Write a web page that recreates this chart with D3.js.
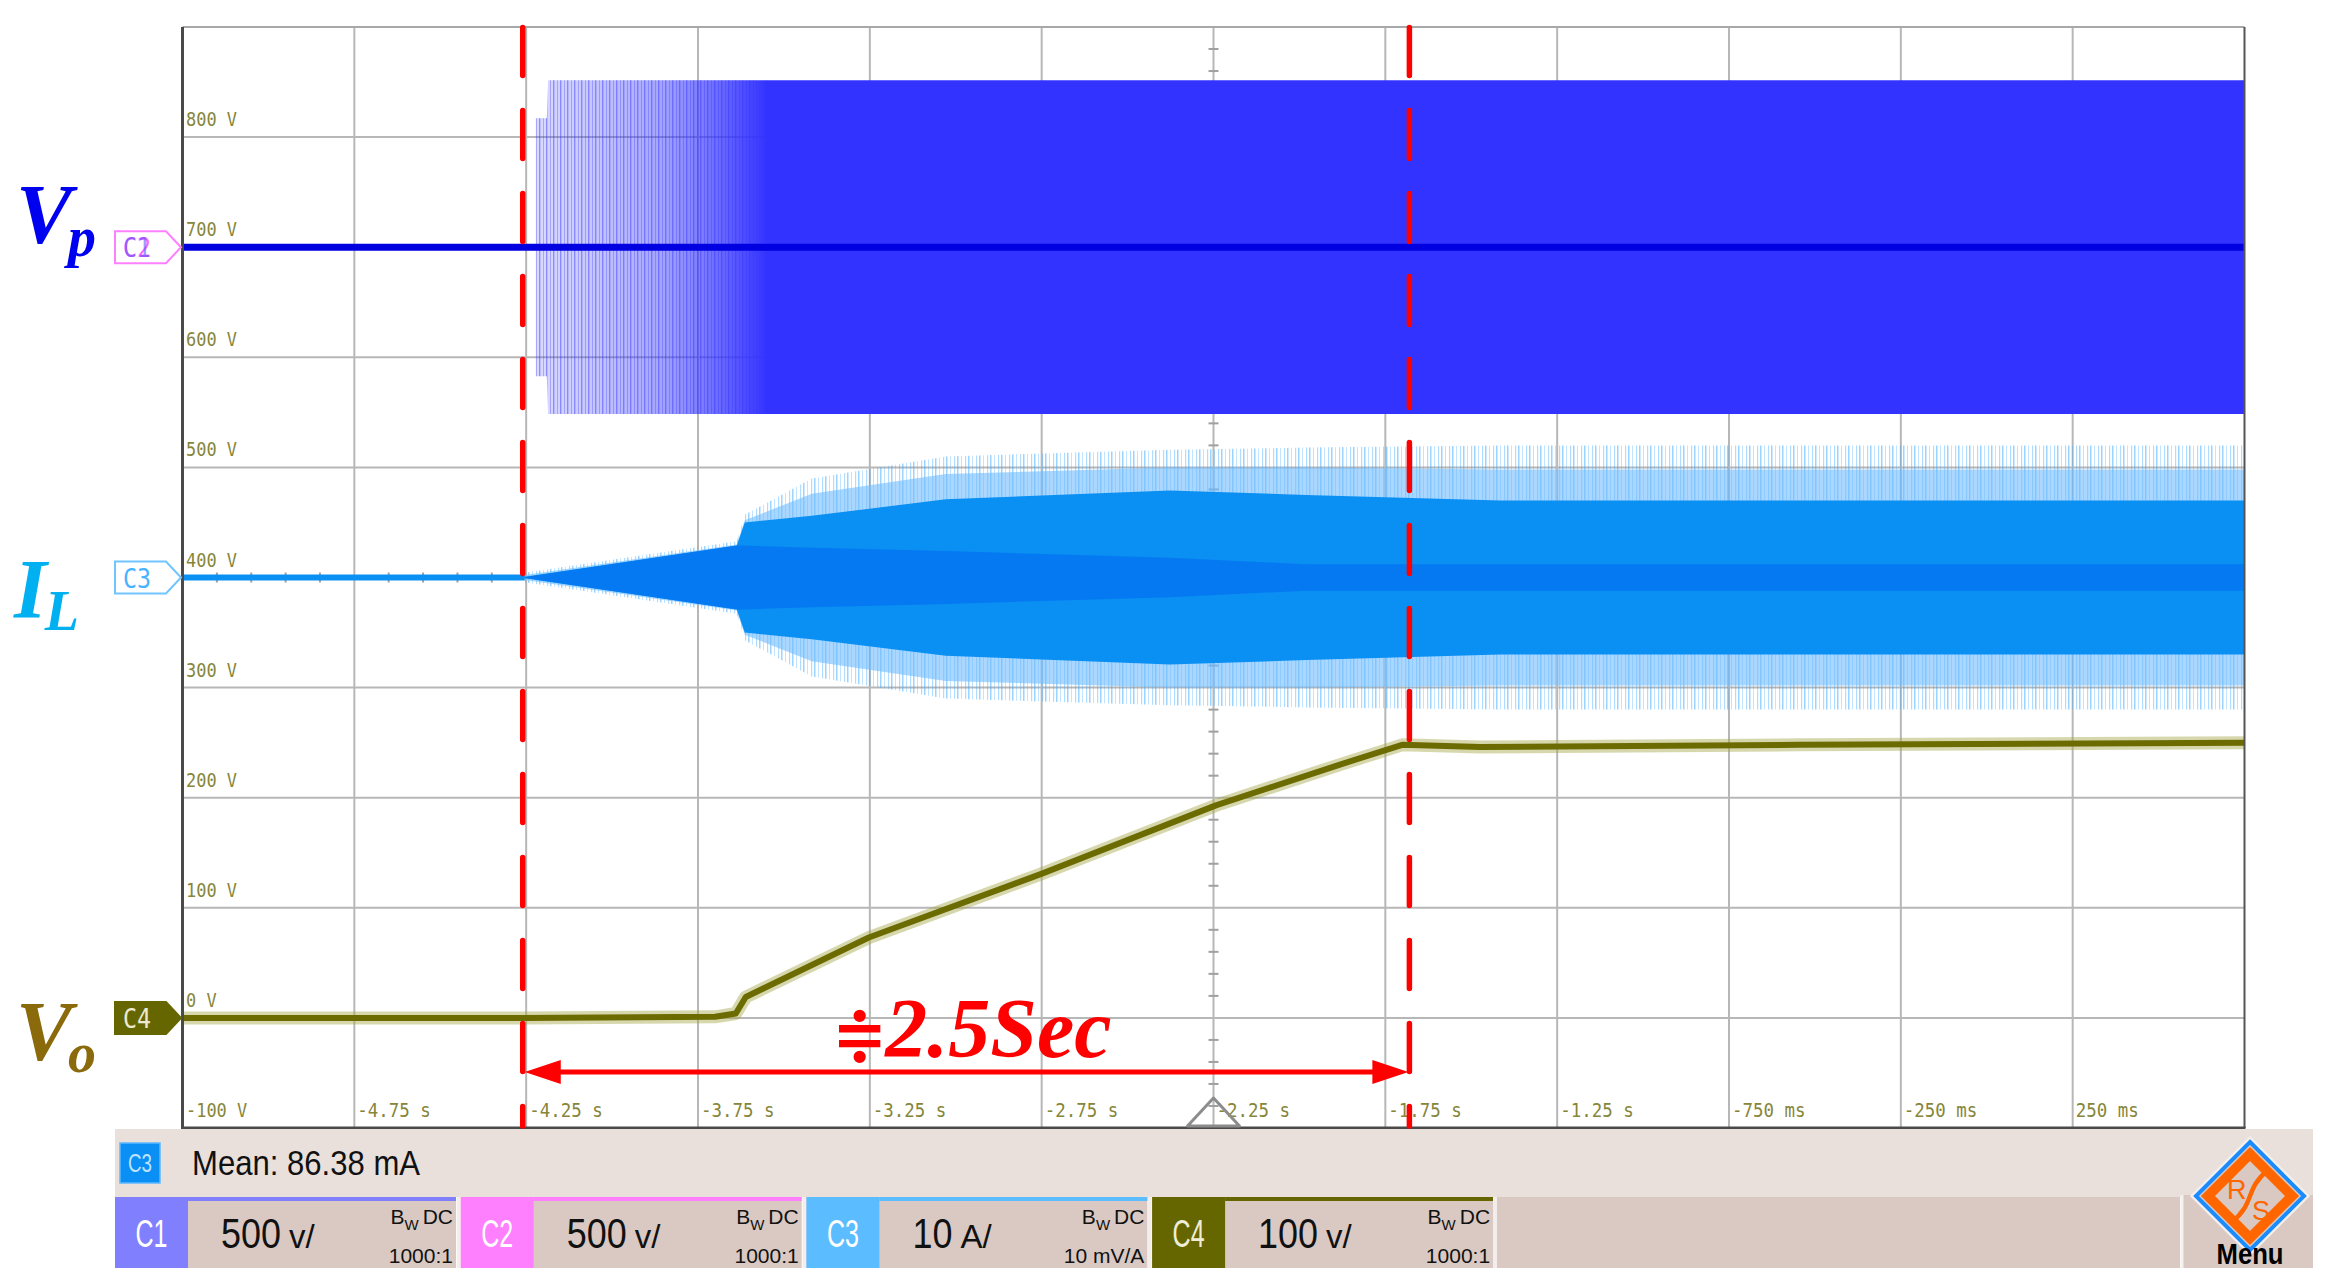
<!DOCTYPE html>
<html><head><meta charset="utf-8">
<script src="https://cdn.jsdelivr.net/npm/d3@7"></script>
<style>body{margin:0;background:#fff}svg{display:block}</style>
</head><body>
<svg id="c" width="2336" height="1288"></svg>
<script>
// ---------------- DATA ----------------
// horizontal axis (seconds)
const timeTicks  = [-4.75,-4.25,-3.75,-3.25,-2.75,-2.25,-1.75,-1.25,-0.75,-0.25,0.25];
const timeLabels = ["-4.75 s","-4.25 s","-3.75 s","-3.25 s","-2.75 s","-2.25 s","-1.75 s","-1.25 s","-750 ms","-250 ms","250 ms"];
// vertical grid levels (screen scale, C4 100 V/div)
const levelTicks  = [800,700,600,500,400,300,200,100,0,-100];
const levelLabels = ["800 V","700 V","600 V","500 V","400 V","300 V","200 V","100 V","0 V","-100 V"];

// Vp (C1, 500 V/div, offset at 700 grid): switching envelope amplitude in V
const vpTime = [-4.222,-4.190,-4.186,0.75];
const vpAmp  = [586,586,758,758];
// density of the switching burst (visual fill strength)
const vpDensTime = [-4.222,-4.05,-3.85,-3.66,-3.55];
const vpDensity  = [0.18,0.28,0.45,0.78,1.0];

// IL (C3, 10 A/div, offset at 400 grid): envelope half-widths in A
const ilTime  = [-4.26,-3.637,-3.614,-3.419,-3.029,-2.377,-1.981,-1.416,0.75];
const ilOuter = [0.4,3.3,5.7,9.0,11.0,11.6,11.8,12.0,12.0];
const ilMid   = [0.2,3.0,5.2,7.6,9.4,10.0,10.0,9.8,9.8];
const ilDense = [0.05,2.9,5.0,5.6,7.1,7.9,7.5,7.0,7.0];
const ilCore  = [0.0,2.9,2.9,2.7,2.4,1.8,1.2,1.2,1.2];

// Vo (C4, 100 V/div, offset at 0 grid) in V
const voTime  = [-5.25,-4.26,-3.70,-3.64,-3.611,-3.253,-2.749,-2.243,-1.873,-1.701,-1.474,-0.543,0.75];
const voValue = [0,0,1,4,19,73,131,193,231,248,246,248,250];

// annotation markers (s)
const markerTimes = [-4.26,-1.68];
const spanSymbol = "≑";
const spanText = "2.5Sec";

// channel info bar
const chNames  = ["C1","C2","C3","C4"];
const chScaleN = ["500","500","10","100"];
const chScaleU = ["v/","v/","A/","v/"];
const chProbe  = ["1000:1","1000:1","10 mV/A","1000:1"];
const chColors = ["#8080ff","#ff80ff","#5bbcff","#666600"];
const measText = "Mean: 86.38 mA";

// ---------------- DRAW ----------------
const svg = d3.select("#c");
const defs = svg.append("defs");
const x = d3.scaleLinear().domain([-5.25,0.75]).range([182.5,2244.5]);
const y = d3.scaleLinear().domain([900,-100]).range([27,1128]);

// grid
const gx = d3.range(13).map(i=>-5.25+0.5*i);
const gy = d3.range(11).map(i=>900-100*i);
const grid = svg.append("g");
grid.selectAll(".vg").data(gx.slice(1,-1)).join("line")
  .attr("x1",d=>x(d)).attr("x2",d=>x(d)).attr("y1",y(900)).attr("y2",y(-100))
  .attr("stroke","#b7b7b7").attr("stroke-width",2);
grid.selectAll(".hg").data(gy.slice(1,-1)).join("line")
  .attr("x1",x(-5.25)).attr("x2",x(0.75)).attr("y1",d=>y(d)).attr("y2",d=>y(d))
  .attr("stroke","#b7b7b7").attr("stroke-width",2);
// minor ticks on centre lines
const vMinor = d3.range(1,50).map(i=>900-20*i).filter(v=>v%100!==0);
grid.selectAll(".mt1").data(vMinor).join("line")
  .attr("x1",x(-2.25)-5).attr("x2",x(-2.25)+5).attr("y1",d=>y(d)).attr("y2",d=>y(d))
  .attr("stroke","#a0a0a0").attr("stroke-width",2);
const hMinor = d3.range(1,60).map(i=>-5.25+0.1*i).filter((v,i)=>(i+1)%5!==0);
grid.selectAll(".mt2").data(hMinor).join("line")
  .attr("y1",y(400)-5).attr("y2",y(400)+5).attr("x1",d=>x(d)).attr("x2",d=>x(d))
  .attr("stroke","#a0a0a0").attr("stroke-width",2);

// level labels / time labels
const mono = "'DejaVu Sans Mono', 'Liberation Mono', monospace";
svg.append("g").selectAll("text").data(levelTicks).join("text")
  .attr("x",186).attr("y",d=>y(d)-11)
  .attr("font-family",mono).attr("font-size",19).attr("fill","#86863a")
  .attr("textLength",(d,i)=>levelLabels[i].length*10.2).attr("lengthAdjust","spacingAndGlyphs")
  .text((d,i)=>levelLabels[i]);
svg.append("g").selectAll("text").data(timeTicks).join("text")
  .attr("x",d=>x(d)+3).attr("y",1117)
  .attr("font-family",mono).attr("font-size",19).attr("fill","#86863a")
  .attr("textLength",(d,i)=>timeLabels[i].length*10.5).attr("lengthAdjust","spacingAndGlyphs")
  .text((d,i)=>timeLabels[i]);

// ---- Vp trace
const vpY = v => y(700 + v/5);
const vpData = vpTime.map((t,i)=>({t,a:vpAmp[i]}));
const gxa = x(vpDensTime[0]), gxb = x(vpDensTime[vpDensTime.length-1]);
const vg = defs.append("linearGradient").attr("id","vpGrad").attr("gradientUnits","userSpaceOnUse")
  .attr("x1",gxa).attr("x2",gxb).attr("y1",0).attr("y2",0);
vg.selectAll("stop").data(vpDensTime).join("stop")
  .attr("offset",d=>(x(d)-gxa)/(gxb-gxa)).attr("stop-color","#3333ff")
  .attr("stop-opacity",(d,i)=>vpDensity[i]);
const vpHair = defs.append("pattern").attr("id","vpHair").attr("patternUnits","userSpaceOnUse")
  .attr("width",7).attr("height",10);
vpHair.append("rect").attr("x",0).attr("width",1.4).attr("height",10).attr("fill","#3333ff").attr("opacity",0.45);
vpHair.append("rect").attr("x",4).attr("width",1).attr("height",10).attr("fill","#3333ff").attr("opacity",0.3);
const vpArea = d3.area().x(d=>x(d.t)).y0(d=>vpY(-d.a)).y1(d=>vpY(d.a));
svg.append("path").datum(vpData).attr("d",vpArea).attr("fill","url(#vpGrad)");
defs.append("clipPath").attr("id","vpClip").append("rect")
  .attr("x",x(-4.222)).attr("width",x(-3.58)-x(-4.222)).attr("y",0).attr("height",1288);
svg.append("path").datum(vpData).attr("d",vpArea).attr("fill","url(#vpHair)").attr("clip-path","url(#vpClip)");
svg.append("line").attr("x1",x(-5.25)).attr("x2",x(0.75)).attr("y1",vpY(0)).attr("y2",vpY(0))
  .attr("stroke","#0000e0").attr("stroke-width",7);

// ---- IL trace
const ilY = a => y(400 + a*10);
const ilData = ilTime.map((t,i)=>({t,o:ilOuter[i],m:ilMid[i],d:ilDense[i],c:ilCore[i]}));
const ilHair = defs.append("pattern").attr("id","ilHair").attr("patternUnits","userSpaceOnUse")
  .attr("width",11).attr("height",10);
ilHair.append("rect").attr("x",0).attr("width",1.5).attr("height",10).attr("fill","#3aa8ff").attr("opacity",0.5);
ilHair.append("rect").attr("x",4).attr("width",1).attr("height",10).attr("fill","#3aa8ff").attr("opacity",0.3);
ilHair.append("rect").attr("x",8).attr("width",1.2).attr("height",10).attr("fill","#3aa8ff").attr("opacity",0.4);
const ilArea = k => d3.area().x(d=>x(d.t)).y0(d=>ilY(-d[k])).y1(d=>ilY(d[k]));
svg.append("path").datum(ilData).attr("d",ilArea("o")).attr("fill","url(#ilHair)");
svg.append("path").datum(ilData).attr("d",ilArea("m")).attr("fill","#6fbcff").attr("opacity",0.6);
svg.append("path").datum(ilData).attr("d",ilArea("d")).attr("fill","#0a8ff2");
svg.append("path").datum(ilData).attr("d",ilArea("c")).attr("fill","#0579f2");
svg.append("line").attr("x1",x(-5.25)).attr("x2",x(ilTime[0])+2).attr("y1",ilY(0)).attr("y2",ilY(0))
  .attr("stroke","#0a8ff2").attr("stroke-width",6);

// ---- Vo trace
const voData = voTime.map((t,i)=>({t,v:voValue[i]}));
const voLine = d3.line().x(d=>x(d.t)).y(d=>y(d.v));
svg.append("path").datum(voData).attr("d",voLine).attr("fill","none")
  .attr("stroke","#a6a64a").attr("stroke-width",13).attr("opacity",0.45).attr("stroke-linejoin","round");
svg.append("path").datum(voData).attr("d",voLine).attr("fill","none")
  .attr("stroke","#6b6b00").attr("stroke-width",6).attr("stroke-linejoin","round");

// frame
const fr = svg.append("g");
fr.append("line").attr("x1",x(-5.25)).attr("x2",x(0.75)).attr("y1",y(900)).attr("y2",y(900)).attr("stroke","#a8a8a8").attr("stroke-width",2);
fr.append("line").attr("x1",x(0.75)).attr("x2",x(0.75)).attr("y1",y(900)).attr("y2",y(-100)).attr("stroke","#555").attr("stroke-width",2);
fr.append("line").attr("x1",x(-5.25)).attr("x2",x(-5.25)).attr("y1",y(900)).attr("y2",y(-100)+1).attr("stroke","#4a4a4a").attr("stroke-width",3);
fr.append("line").attr("x1",x(-5.25)).attr("x2",x(0.75)+1).attr("y1",y(-100)).attr("y2",y(-100)).attr("stroke","#4a4a4a").attr("stroke-width",3);

// trigger marker
const tx = x(-2.25);
svg.append("path").attr("d",`M${tx-26},${1126}L${tx+26},${1126}L${tx},${1098}Z`)
  .attr("fill","none").attr("stroke","#8c8c8c").attr("stroke-width",3).attr("stroke-linejoin","round");

// channel markers on the left
function marker(yc, stroke, fill){
  const g = svg.append("g");
  g.append("path").attr("d",`M115,${yc-16}L166,${yc-16}L181,${yc}L166,${yc+16}L115,${yc+16}Z`)
    .attr("fill",fill).attr("stroke",stroke).attr("stroke-width",2);
  return g;
}
let m1 = marker(vpY(0),"#ff80ff","#ffffff");
m1.append("text").attr("x",123).attr("y",vpY(0)+10).attr("font-family",mono).attr("font-size",27)
  .attr("fill","#ff66ff").attr("textLength",28).attr("lengthAdjust","spacingAndGlyphs").text("C2");
m1.append("text").attr("x",123).attr("y",vpY(0)+10).attr("font-family",mono).attr("font-size",27)
  .attr("fill","#4d4dff").attr("opacity",0.55).attr("textLength",28).attr("lengthAdjust","spacingAndGlyphs").text("C1");
let m3 = marker(ilY(0),"#70c4ff","#ffffff");
m3.append("text").attr("x",123).attr("y",ilY(0)+10).attr("font-family",mono).attr("font-size",27)
  .attr("fill","#47b2ff").attr("textLength",28).attr("lengthAdjust","spacingAndGlyphs").text("C3");
let m4 = marker(y(0),"#666600","#666600");
m4.append("text").attr("x",123).attr("y",y(0)+10).attr("font-family",mono).attr("font-size",27)
  .attr("fill","#ecebd2").attr("textLength",28).attr("lengthAdjust","spacingAndGlyphs").text("C4");

// big left labels
const serif = "'Liberation Serif','Times New Roman',serif";
function bigLabel(xx, yy, main, sub, dx, dy, col){
  const t = svg.append("text").attr("x",xx).attr("y",yy).attr("font-family",serif)
    .attr("font-weight","bold").attr("font-style","italic").attr("fill",col);
  t.append("tspan").attr("font-size",84).text(main);
  t.append("tspan").attr("font-size",56).attr("dx",dx).attr("dy",dy).text(sub);
}
bigLabel(16,243,"V","p",-4,13,"#0000f0");
bigLabel(14,618,"I","L",-2,12,"#00b0f0");
bigLabel(16,1060,"V","o",-4,12,"#8a6a0a");

// ---------------- bottom info panel ----------------
const sans = "'Liberation Sans','Arial',sans-serif";
svg.append("rect").attr("x",115).attr("y",1129).attr("width",2313-115).attr("height",68).attr("fill","#e9e0dc");
svg.append("rect").attr("x",120).attr("y",1143).attr("width",40).attr("height",40).attr("fill","#0a8ff5").attr("stroke","#5db8ff").attr("stroke-width",1.5);
svg.append("text").attr("x",140).attr("y",1172).attr("text-anchor","middle").attr("font-family",sans)
  .attr("font-size",25).attr("fill","#bfe3ff").attr("textLength",24).attr("lengthAdjust","spacingAndGlyphs").text("C3");
svg.append("text").attr("x",192).attr("y",1175).attr("font-family",sans).attr("font-size",35)
  .attr("fill","#111").attr("textLength",228).attr("lengthAdjust","spacingAndGlyphs").text(measText);

// row 2 background
svg.append("rect").attr("x",1497).attr("y",1197).attr("width",2180-1497).attr("height",71).attr("fill","#d9c9c2");
chNames.forEach((nm,i)=>{
  const x0 = 115 + i*345.7, bw = 73, tw = 341;
  const g = svg.append("g");
  g.append("rect").attr("x",x0).attr("y",1197).attr("width",tw).attr("height",71).attr("fill","#d9c9c2");
  g.append("rect").attr("x",x0).attr("y",1197).attr("width",bw).attr("height",71).attr("fill",chColors[i]);
  g.append("rect").attr("x",x0+bw).attr("y",1197).attr("width",tw-bw).attr("height",4).attr("fill",chColors[i]);
  g.append("text").attr("x",x0+bw/2).attr("y",1247).attr("text-anchor","middle").attr("font-family",sans)
    .attr("font-size",38).attr("fill", i===3 ? "#eeeed8" : "#ffffff")
    .attr("textLength",32).attr("lengthAdjust","spacingAndGlyphs").text(nm);
  const nW = chScaleN[i].length*20;
  g.append("text").attr("x",x0+bw+33).attr("y",1248).attr("font-family",sans).attr("fill","#111")
    .attr("font-size",43).attr("textLength",nW).attr("lengthAdjust","spacingAndGlyphs").text(chScaleN[i]);
  g.append("text").attr("x",x0+bw+33+nW+8).attr("y",1248).attr("font-family",sans).attr("fill","#111")
    .attr("font-size",33).text(chScaleU[i]);
  const bwT = g.append("text").attr("x",x0+tw-3).attr("y",1224).attr("text-anchor","end")
    .attr("font-family",sans).attr("font-size",21).attr("fill","#111");
  bwT.append("tspan").text("B");
  bwT.append("tspan").attr("font-size",15).attr("dy",6).text("W");
  bwT.append("tspan").attr("dy",-6).attr("dx",4).text("DC");
  g.append("text").attr("x",x0+tw-3).attr("y",1263).attr("text-anchor","end")
    .attr("font-family",sans).attr("font-size",21).attr("fill","#111").text(chProbe[i]);
});
// separators (white gaps)
[1,2,3].forEach(i=>{
  svg.append("rect").attr("x",115+i*345.7-4).attr("y",1197).attr("width",3.5).attr("height",71).attr("fill","#f3eeec");
});
svg.append("rect").attr("x",1493).attr("y",1197).attr("width",4).attr("height",71).attr("fill","#f3eeec");

// Menu box + logo
svg.append("rect").attr("x",2183).attr("y",1195).attr("width",130).attr("height",73).attr("fill","#d9c9c2");
svg.append("line").attr("x1",2182).attr("x2",2182).attr("y1",1195).attr("y2",1268).attr("stroke","#f5f1ef").attr("stroke-width",3);
const cx=2250, cy=1196;
const dia = r => `M${cx},${cy-r}L${cx+r},${cy}L${cx},${cy+r}L${cx-r},${cy}Z`;
svg.append("path").attr("d",dia(58)).attr("fill","none").attr("stroke","#f4efed").attr("stroke-width",3);
svg.append("path").attr("d",dia(54)).attr("fill","#d9c9c2").attr("stroke","#1a8cff").attr("stroke-width",4);
svg.append("path").attr("d",dia(42)).attr("fill","#d9c9c2").attr("stroke","#ff6600").attr("stroke-width",10);
svg.append("path").attr("d",`M${cx+18},${cy-26}C${cx-6},${cy-6} ${cx+6},${cy+6} ${cx-18},${cy+26}`)
  .attr("fill","none").attr("stroke","#ff6600").attr("stroke-width",4.5);
svg.append("text").attr("x",2227).attr("y",1199).attr("font-family",sans).attr("font-size",27).attr("fill","#ff6600").text("R");
svg.append("text").attr("x",2252).attr("y",1220).attr("font-family",sans).attr("font-size",27).attr("fill","#ff6600").text("S");
svg.append("text").attr("x",cx).attr("y",1264).attr("text-anchor","middle").attr("font-family",sans)
  .attr("font-weight","bold").attr("font-size",30).attr("fill","#000")
  .attr("textLength",67).attr("lengthAdjust","spacingAndGlyphs").text("Menu");

// ---------------- red annotations ----------------
const ann = svg.append("g");
ann.selectAll(".rd").data(markerTimes).join("line")
  .attr("x1",d=>x(d)).attr("x2",d=>x(d)).attr("y1",27.5).attr("y2",1126)
  .attr("stroke","#ff0000").attr("stroke-width",5.5).attr("stroke-linecap","round")
  .attr("stroke-dasharray","48 35");
const ay = 1072, xa = x(markerTimes[0])+2, xb = x(markerTimes[1])-1;
ann.append("line").attr("x1",xa+30).attr("x2",xb-30).attr("y1",ay).attr("y2",ay).attr("stroke","#ff0000").attr("stroke-width",5);
ann.append("path").attr("d",`M${xa},${ay}L${xa+36},${ay-12}L${xa+36},${ay+12}Z`).attr("fill","#ff0000");
ann.append("path").attr("d",`M${xb},${ay}L${xb-36},${ay-12}L${xb-36},${ay+12}Z`).attr("fill","#ff0000");
const st2 = ann.append("text").attr("x",832).attr("y",1057).attr("font-family",serif).attr("font-weight","bold")
  .attr("font-size",84).attr("fill","#ff0000");
st2.append("tspan").attr("font-style","normal").attr("font-family","'DejaVu Serif',serif").attr("font-size",66).text(spanSymbol);
st2.append("tspan").attr("font-style","italic").attr("dx",-2).text(spanText);
</script>
</body></html>
